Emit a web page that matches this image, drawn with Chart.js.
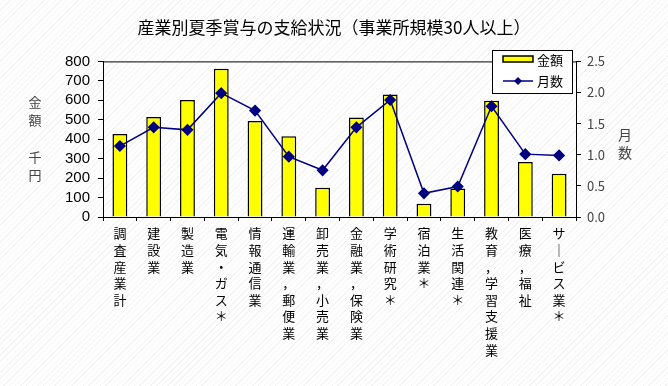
<!DOCTYPE html>
<html>
<head>
<meta charset="utf-8">
<script src="https://cdn.jsdelivr.net/npm/chart.js@4.4.1/dist/chart.umd.min.js"></script>
<style>
  html, body { margin: 0; padding: 0; }
  body {
    width: 668px; height: 386px; overflow: hidden;
    background: #fff repeating-linear-gradient(135deg, #fff 0px, #fff 3px, #f4f4f4 3px, #f4f4f4 4px);
  }
  #mycanvas { display: block; }
</style>
</head>
<body>
<canvas id="mycanvas" width="668" height="386"></canvas>
<script>
// 産業別 夏季賞与
var categories = [
  ['調','査','産','業','計'],
  ['建','設','業'],
  ['製','造','業'],
  ['電','気','・','ガ','ス','＊'],
  ['情','報','通','信','業'],
  ['運','輸','業','，','郵','便','業'],
  ['卸','売','業','，','小','売','業'],
  ['金','融','業','，','保','険','業'],
  ['学','術','研','究','＊'],
  ['宿','泊','業','＊'],
  ['生','活','関','連','＊'],
  ['教','育','，','学','習','支','援','業'],
  ['医','療','，','福','祉'],
  ['サ','｜','ビ','ス','業','＊']
];
var amounts = [427, 514, 602, 762, 493, 415, 151, 512, 630, 68, 146, 598, 283, 223];   // 千円
var months  = [1.14, 1.44, 1.40, 1.99, 1.71, 0.97, 0.75, 1.44, 1.88, 0.38, 0.49, 1.78, 1.01, 0.99];
var amountTicks = { min: 0, max: 800, step: 100 };
var monthTicks  = { min: 0, max: 2.5, step: 0.5 };

var jp = '"Noto Sans CJK JP", "Noto Sans", sans-serif';

// axis titles, top frame line, legend box
var extras = {
  id: 'extras',
  afterDraw: function (chart) {
    var ctx = chart.ctx, a = chart.chartArea;
    ctx.save();
    ctx.strokeStyle = '#000';
    ctx.lineWidth = 1;
    ctx.beginPath();
    ctx.moveTo(a.left, a.top + 0.5);
    ctx.lineTo(a.right, a.top + 0.5);
    ctx.stroke();

    ctx.fillStyle = '#444';
    ctx.font = '13px ' + jp;
    ctx.textAlign = 'center';
    ctx.textBaseline = 'middle';
    ctx.fillText('金', 35, 102);
    ctx.fillText('額', 35, 120);
    ctx.fillText('千', 35, 157);
    ctx.fillText('円', 35, 175);
    ctx.font = '14px ' + jp;
    ctx.fillText('月', 625, 135);
    ctx.fillText('数', 625, 153);

    // legend
    var lx = 492, ly = 50, lw = 80, lh = 43;
    ctx.fillStyle = '#fff';
    ctx.fillRect(lx, ly, lw, lh);
    ctx.strokeStyle = '#000';
    ctx.strokeRect(lx + 0.5, ly + 0.5, lw, lh);
    var ds = chart.data.datasets;
    ctx.fillStyle = ds[0].backgroundColor;
    ctx.fillRect(503, 56, 30, 6);
    ctx.lineWidth = 1.5;
    ctx.strokeRect(503, 56, 30, 6);
    ctx.strokeStyle = ds[1].borderColor;
    ctx.lineWidth = 1.5;
    ctx.beginPath();
    ctx.moveTo(503, 81);
    ctx.lineTo(533, 81);
    ctx.stroke();
    ctx.fillStyle = ds[1].pointBackgroundColor;
    ctx.beginPath();
    ctx.moveTo(518, 77); ctx.lineTo(522, 81); ctx.lineTo(518, 85); ctx.lineTo(514, 81);
    ctx.closePath();
    ctx.fill();
    ctx.fillStyle = '#000';
    ctx.font = '13px ' + jp;
    ctx.textAlign = 'left';
    ctx.fillText(ds[0].label, 537, 60);
    ctx.fillText(ds[1].label, 537, 81);
    ctx.restore();
  }
};

var ctx = document.getElementById('mycanvas').getContext('2d');
var myChart = new Chart(ctx, {
  type: 'bar',
  data: {
    labels: categories,
    datasets: [{
      label: '金額',
      data: amounts,
      backgroundColor: '#FFFF00',
      borderColor: '#000',
      borderWidth: 1.5,
      barPercentage: 0.88,
      categoryPercentage: 0.5,
      yAxisID: 'y',
      order: 2
    }, {
      type: 'line',
      label: '月数',
      data: months,
      borderColor: '#000080',
      backgroundColor: '#000080',
      pointBackgroundColor: '#000080',
      pointBorderColor: '#000080',
      borderWidth: 1.5,
      pointStyle: 'rectRot',
      pointRadius: 5,
      tension: 0,
      yAxisID: 'y1',
      order: 1
    }]
  },
  plugins: [extras],
  options: {
    responsive: false,
    animation: false,
    devicePixelRatio: 1,
    layout: { padding: 0 },
    plugins: {
      legend: { display: false },
      tooltip: { enabled: false },
      title: {
        display: true,
        text: '産業別夏季賞与の支給状況（事業所規模30人以上）',
        color: '#000',
        font: { family: jp, size: 17, weight: 'normal', lineHeight: 1.2 },
        padding: { top: 17, bottom: 24 }
      }
    },
    scales: {
      x: {
        grid: { display: true, drawOnChartArea: false, drawTicks: true, tickLength: 4, color: '#000', offset: true },
        border: { color: '#000', width: 1 },
        ticks: { color: '#000', font: { family: jp, size: 13, lineHeight: 1.28 }, maxRotation: 0, minRotation: 0, autoSkip: false, padding: 4 },
        afterFit: function (s) { s.height = 169; }
      },
      y: {
        position: 'left',
        min: amountTicks.min, max: amountTicks.max,
        grid: { display: true, drawOnChartArea: false, tickLength: 5, color: '#000' },
        border: { color: '#000', width: 1 },
        ticks: { stepSize: amountTicks.step, autoSkip: false, color: '#000', font: { family: '"Liberation Sans", Arial, sans-serif', size: 15 }, padding: 8 },
        afterFit: function (s) { s.width = 103; }
      },
      y1: {
        position: 'right',
        min: monthTicks.min, max: monthTicks.max,
        grid: { display: true, drawOnChartArea: false, tickLength: 5, color: '#000' },
        border: { color: '#000', width: 1 },
        ticks: {
          stepSize: monthTicks.step, autoSkip: false, color: '#444', padding: 6,
          font: { family: jp, size: 13 },
          callback: function (v) { return v.toFixed(1); }
        },
        afterFit: function (s) { s.width = 92; }
      }
    }
  }
});
</script>
</body>
</html>
